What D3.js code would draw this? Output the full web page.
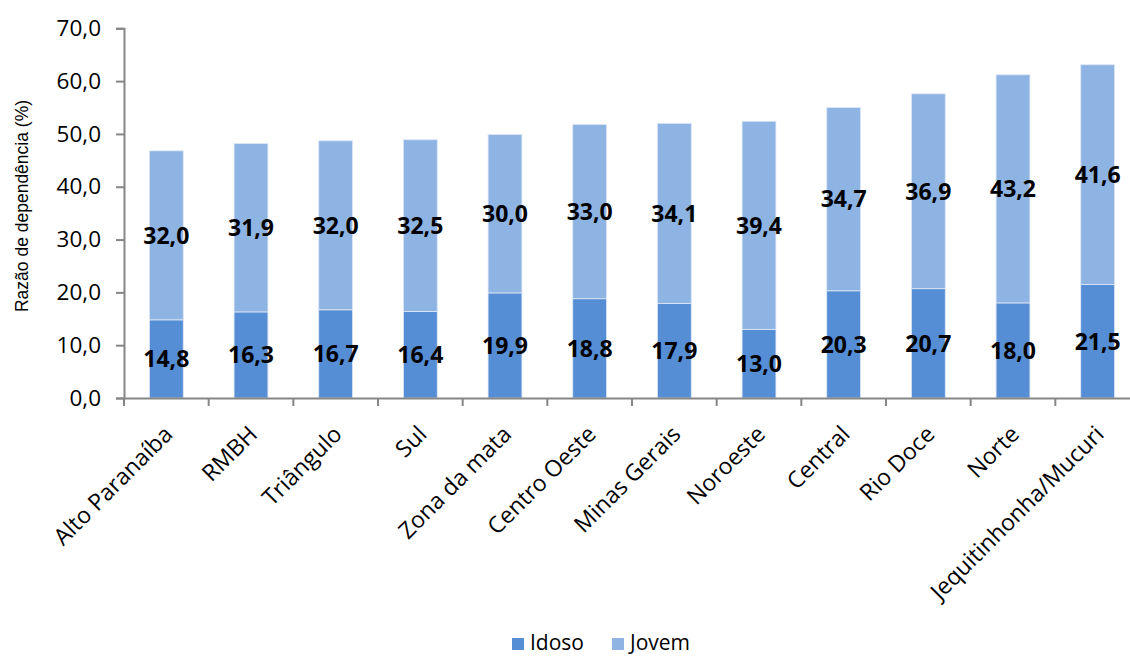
<!DOCTYPE html>
<html>
<head>
<meta charset="utf-8">
<script src="https://cdn.jsdelivr.net/npm/d3@7"></script>
<style>
  html, body { margin: 0; padding: 0; background: #fff; }
  svg { display: block; }
</style>
</head>
<body>
<svg id="chart" width="1130" height="657"></svg>
<script>
const categories = ["Alto Paranaíba", "RMBH", "Triângulo", "Sul", "Zona da mata", "Centro Oeste", "Minas Gerais", "Noroeste", "Central", "Rio Doce", "Norte", "Jequitinhonha/Mucuri"];
const idoso = [14.8, 16.3, 16.7, 16.4, 19.9, 18.8, 17.9, 13.0, 20.3, 20.7, 18.0, 21.5];
const jovem = [32.0, 31.9, 32.0, 32.5, 30.0, 33.0, 34.1, 39.4, 34.7, 36.9, 43.2, 41.6];
const seriesNames = ["Idoso", "Jovem"];
const seriesColors = ["#558ED5", "#8EB4E3"];
const yTicks = [0, 10, 20, 30, 40, 50, 60, 70];

const svg = d3.select("#chart");
const pLeft = 124, pRight = 1140, pTop = 28.3, pBottom = 398;
const fmt = v => d3.format(".1f")(v).replace(".", ",");
const FONT = "'Open Sans', sans-serif";

const x = d3.scaleBand().domain(categories).range([pLeft, pRight]).paddingInner(0.6).paddingOuter(0.3);
const y = d3.scaleLinear().domain([0, 70]).range([pBottom, pTop]);

const rows = categories.map((c, i) => ({cat: c, Idoso: idoso[i], Jovem: jovem[i]}));
const stacked = d3.stack().keys(seriesNames)(rows);

// bars
stacked.forEach((s, si) => {
  svg.append("g").selectAll("rect").data(s).join("rect")
    .attr("x", d => x(d.data.cat))
    .attr("width", x.bandwidth())
    .attr("y", d => y(d[1]))
    .attr("height", d => y(d[0]) - y(d[1]))
    .attr("fill", seriesColors[si])
    .attr("stroke", "#dfe8f5")
    .attr("stroke-width", 0.8);
});

// value labels
stacked.forEach((s, si) => {
  svg.append("g").selectAll("text").data(s).join("text")
    .attr("x", d => x(d.data.cat) + x.bandwidth() / 2)
    .attr("y", d => y((d[0] + d[1]) / 2))
    .attr("dy", "0.36em")
    .attr("text-anchor", "middle")
    .attr("font-family", FONT)
    .attr("font-weight", "bold")
    .attr("font-size", 23)
    .attr("fill", "#000")
    .text(d => fmt(d[1] - d[0]));
});

// y axis
const yAxis = d3.axisLeft(y).tickValues(yTicks).tickFormat(fmt).tickSize(8).tickPadding(15);
const gy = svg.append("g").attr("transform", `translate(${pLeft},0)`).call(yAxis);
gy.select(".domain").attr("stroke", "#868686").attr("stroke-width", 2);
gy.selectAll(".tick line").attr("stroke", "#868686").attr("stroke-width", 2);
gy.selectAll(".tick text").attr("font-family", FONT).attr("font-size", 22.5).attr("fill", "#000");

// x axis
const xAxis = d3.axisBottom(x).tickSize(0).tickFormat("");
const gx = svg.append("g").attr("transform", `translate(0,${pBottom})`).call(xAxis);
gx.select(".domain").attr("stroke", "#868686").attr("stroke-width", 2);
gx.selectAll(".tick").remove();
const step = x.step();
const bounds = d3.range(categories.length + 1).map(i => pLeft + i * step);
gx.selectAll("line.bt").data(bounds).join("line").attr("class", "bt")
  .attr("x1", d => d).attr("x2", d => d).attr("y1", 0).attr("y2", 8)
  .attr("stroke", "#868686").attr("stroke-width", 2);

// category labels
svg.append("g").selectAll("text").data(categories).join("text")
  .attr("transform", d => `translate(${x(d) + x.bandwidth() / 2 + 2},${pBottom + 32}) rotate(-45)`)
  .attr("text-anchor", "end")
  .attr("dy", "0.35em")
  .attr("font-family", FONT)
  .attr("font-size", 23)
  .attr("fill", "#000")
  .text(d => d);

// y title
svg.append("text")
  .attr("transform", `translate(28,206) rotate(-90)`)
  .attr("text-anchor", "middle")
  .attr("font-family", "'Liberation Sans', Arial, sans-serif")
  .attr("font-size", 17.5)
  .attr("fill", "#000")
  .text("Razão de dependência (%)");

// legend
const legendX = [512, 612];
const lg = svg.append("g");
seriesNames.forEach((n, i) => {
  lg.append("rect").attr("x", legendX[i]).attr("y", 638).attr("width", 12).attr("height", 12).attr("fill", seriesColors[i]);
  lg.append("text").attr("x", legendX[i] + 18).attr("y", 650)
    .attr("font-family", FONT).attr("font-size", 21).attr("fill", "#000").text(n);
});
</script>
</body>
</html>
